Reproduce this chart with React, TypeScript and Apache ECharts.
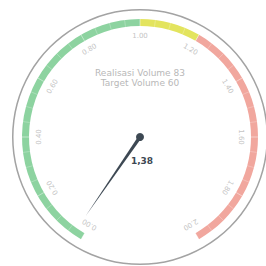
import React, { useEffect, useRef } from "react";
import * as echarts from "echarts";

const realisasiVolume = 83;
const targetVolume = 60;
const ratioText = "1,38";
const pointerValues = [0.03];
const axisMin = 0;
const axisMax = 2;
const bandStops: [number, string][] = [
  [0.5, "#8dd3a0"],
  [0.6, "#e3e45e"],
  [1, "#f1a79e"],
];

export default function App() {
  const ref = useRef<HTMLDivElement>(null);
  useEffect(() => {
    if (!ref.current) return;
    const chart = echarts.init(ref.current, undefined, { renderer: "svg" });
    chart.setOption({
      animation: false,
      series: [
        {
          type: "gauge",
          center: [140, 137],
          radius: 128,
          startAngle: 90,
          endAngle: -270,
          min: 0,
          max: 1,
          axisLine: { lineStyle: { width: 1.5, color: [[1, "#a3a3a3"]] } },
          axisTick: { show: false },
          splitLine: { show: false },
          axisLabel: { show: false },
          pointer: { show: false },
          anchor: { show: false },
          title: { show: false },
          detail: { show: false },
          data: [],
        },
        {
          type: "gauge",
          center: [140, 137],
          radius: 118,
          startAngle: 240,
          endAngle: -60,
          min: axisMin,
          max: axisMax,
          splitNumber: 10,
          axisLine: { lineStyle: { width: 7, color: bandStops } },
          axisTick: {
            show: true,
            splitNumber: 4,
            length: 7,
            distance: -7,
            lineStyle: { color: "rgba(255,255,255,0.25)", width: 1 },
          },
          splitLine: { show: false, distance: 0, length: 0 },
          axisLabel: {
            show: true,
            distance: 17,
            rotate: "tangential",
            color: "#c4c4c4",
            fontSize: 7,
            fontFamily: "DejaVu Sans",
            formatter: (v: number) => v.toFixed(2),
          },
          pointer: {
            show: true,
            length: 96,
            width: 1.8,
            offsetCenter: [0, 0],
            itemStyle: { color: "#3d4853" },
          },
          anchor: {
            show: true,
            size: 8,
            showAbove: true,
            itemStyle: { color: "#3d4853", borderWidth: 0 },
          },
          title: {
            show: true,
            offsetCenter: [0, -59],
            color: "#b8b8b8",
            fontSize: 9,
            lineHeight: 10,
            fontFamily: "DejaVu Sans",
          },
          detail: {
            show: true,
            offsetCenter: [2, 24],
            color: "#3d4853",
            fontSize: 9,
            fontWeight: "bold",
            fontFamily: "DejaVu Sans",
            formatter: () => ratioText,
          },
          data: [
            {
              value: pointerValues[0],
              name: `Realisasi Volume ${realisasiVolume}\nTarget Volume ${targetVolume}`,
            },
          ],
        },
      ],
    });
    return () => chart.dispose();
  }, []);
  return (
    <div
      ref={ref}
      style={{ position: "absolute", left: 0, top: 0, width: 266, height: 266 }}
    />
  );
}
